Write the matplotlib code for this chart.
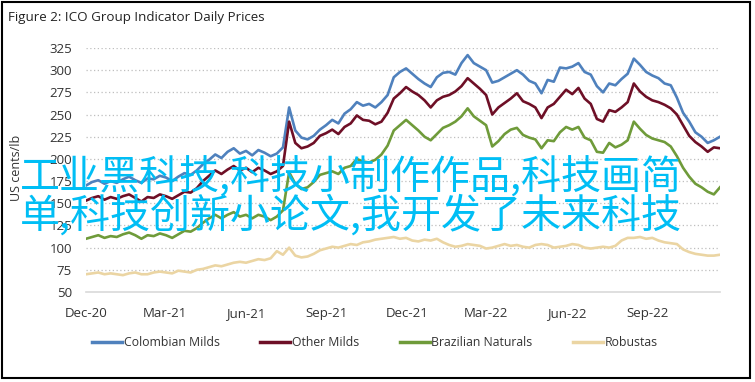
import matplotlib
matplotlib.use("Agg")
import matplotlib.pyplot as plt
import pandas as pd
from matplotlib.patches import Rectangle

plt.rcParams['font.family'] = ['Liberation Sans Narrow', 'Open Sans', 'DejaVu Sans']

# ---- data (weekly readings, US cents/lb) ----
start_date = "2020-12-01"
end_date = "2022-11-22"
colombian = [170, 174, 176, 172, 175, 173, 177, 180, 176, 173,
             178, 177, 181, 179, 175, 180, 184, 182, 187, 194,
             199, 205, 201, 208, 212, 206, 209, 204, 210, 207,
             203, 206, 213, 258, 232, 224, 222, 226, 233, 238,
             244, 240, 251, 256, 264, 260, 262, 258, 264, 272,
             292, 298, 302, 296, 290, 285, 281, 292, 297, 298,
             295, 308, 317, 308, 304, 300, 286, 288, 292, 296,
             300, 295, 288, 285, 274, 289, 287, 303, 302, 304,
             308, 298, 295, 282, 275, 285, 283, 290, 296, 313,
             306, 298, 294, 291, 285, 283, 269, 252, 242, 230,
             225, 218, 221, 225]
other_milds = [153, 156, 158, 154, 157, 155, 158, 160, 156, 152,
               157, 156, 160, 158, 155, 159, 163, 162, 167, 175,
               181, 187, 183, 188, 192, 187, 190, 185, 190, 187,
               183, 186, 192, 242, 218, 212, 214, 218, 226, 229,
               233, 228, 236, 240, 249, 244, 243, 239, 242, 252,
               268, 274, 281, 276, 272, 266, 258, 266, 270, 272,
               276, 282, 291, 285, 279, 272, 250, 258, 263, 268,
               274, 265, 262, 258, 246, 258, 262, 270, 278, 273,
               280, 268, 262, 245, 242, 255, 253, 258, 264, 285,
               276, 270, 266, 264, 261, 257, 250, 238, 226, 219,
               214, 208, 213, 212]
brazilian = [110, 112, 114, 111, 113, 112, 115, 117, 114, 110,
             114, 113, 116, 114, 111, 115, 119, 118, 122, 128,
             133, 137, 133, 137, 140, 135, 137, 133, 137, 135,
             131, 135, 142, 185, 172, 166, 168, 174, 182, 184,
             186, 183, 190, 192, 200, 197, 196, 199, 205, 215,
             232, 238, 244, 238, 232, 225, 221, 228, 235, 238,
             242, 248, 257, 248, 243, 238, 214, 220, 228, 233,
             235, 227, 224, 222, 212, 221, 220, 230, 236, 233,
             236, 224, 221, 208, 207, 218, 213, 216, 221, 242,
             234, 227, 223, 221, 219, 214, 203, 190, 180, 172,
             168, 163, 160, 168]
robustas = [70, 71, 72, 70, 71, 70, 69, 71, 72, 70,
            70, 72, 73, 72, 71, 74, 73, 72, 75, 76,
            78, 80, 79, 81, 83, 84, 83, 85, 87, 86,
            88, 96, 92, 100, 91, 89, 90, 93, 97, 99,
            101, 100, 102, 104, 103, 106, 107, 109, 110, 111,
            112, 110, 111, 108, 107, 109, 108, 110, 106, 103,
            101, 102, 104, 103, 102, 99, 100, 102, 104, 102,
            103, 101, 100, 103, 104, 103, 100, 101, 102, 104,
            103, 100, 99, 100, 101, 100, 102, 108, 111, 111,
            112, 110, 111, 108, 106, 105, 104, 98, 95, 93,
            92, 91, 91, 92]
series_names = ["Colombian Milds", "Other Milds", "Brazilian Naturals", "Robustas"]
colors = ["#4F81BD", "#6E0F26", "#6F9B3A", "#EBD5A3"]
tick_dates = ["2020-12-01", "2021-03-01", "2021-06-01", "2021-09-01",
              "2021-12-01", "2022-03-01", "2022-06-01", "2022-09-01"]
tick_labels = ["Dec-20", "Mar-21", "Jun-21", "Sep-21", "Dec-21", "Mar-22", "Jun-22", "Sep-22"]
y_ticks = [50, 75, 100, 125, 150, 175, 200, 225, 250, 275, 300, 325]
title = "Figure 2: ICO Group Indicator Daily Prices"
ylabel = "US cents/lb"
overlay_lines = ["工业黑科技,科技小制作作品,科技画简", "单,科技创新小论文,我开发了未来科技"]

dates = pd.date_range(start=start_date, periods=len(colombian), freq="7D")

W, H = 755, 382
fig = plt.figure(figsize=(W / 100, H / 100), dpi=100)
ax = fig.add_axes([86 / W, 1 - 292 / H, (720 - 86) / W, (292 - 48) / H])

for vals, name, c in zip([colombian, other_milds, brazilian, robustas], series_names, colors):
    ax.plot(dates, vals, color=c, lw=1.9, label=name, solid_joinstyle="round")

ax.set_xlim(pd.Timestamp(start_date), pd.Timestamp(end_date))
ax.set_ylim(50, 325)
ax.set_yticks(y_ticks)
ax.set_xticks([pd.Timestamp(d) for d in tick_dates])
ax.set_xticklabels(tick_labels)
for s in ["top", "right", "left"]:
    ax.spines[s].set_visible(False)
ax.spines["bottom"].set_color("#D9D9D9")
ax.spines["bottom"].set_linewidth(1.2)
ax.tick_params(axis="both", length=0, labelsize=9.5, colors="#333333")
ax.tick_params(axis="y", pad=10)
ax.tick_params(axis="x", pad=11)
for yv in y_ticks[1:]:
    ax.axhline(yv, color="#BFBFBF", lw=0.9, ls=(0, (1, 2)), zorder=0)

fig.text(17 / W, 1 - 168 / H, ylabel, rotation=90, fontsize=9, color="#333333",
         ha="center", va="center")

fig.text(8 / W, 1 - 17 / H, title, fontsize=9.6, color="#222222", ha="left", va="center")

fig.legend(loc="center", bbox_to_anchor=(375 / W, 1 - 343 / H), ncol=4, frameon=False,
           fontsize=8.8, handlelength=2.45, handletextpad=0.15, columnspacing=3.3,
           labelcolor="#333333")
for lh in fig.legends[0].get_lines():
    lh.set_linewidth(2.5)

# overlay text
fig.text(20 / W, 1 - 178 / H, overlay_lines[0], fontsize=28.8, color="#00BEF5",
         family=["Noto Sans CJK SC", "DejaVu Sans"], ha="left", va="center")
fig.text(20 / W, 1 - 216 / H, overlay_lines[1], fontsize=28.8, color="#00BEF5",
         family=["Noto Sans CJK SC", "DejaVu Sans"], ha="left", va="center")

fig.patches.append(Rectangle((2 / W, 1 - 378 / H), 748 / W, 376 / H, transform=fig.transFigure,
                             fill=False, edgecolor="black", lw=1.5))

fig.savefig("out.png", dpi=100)
